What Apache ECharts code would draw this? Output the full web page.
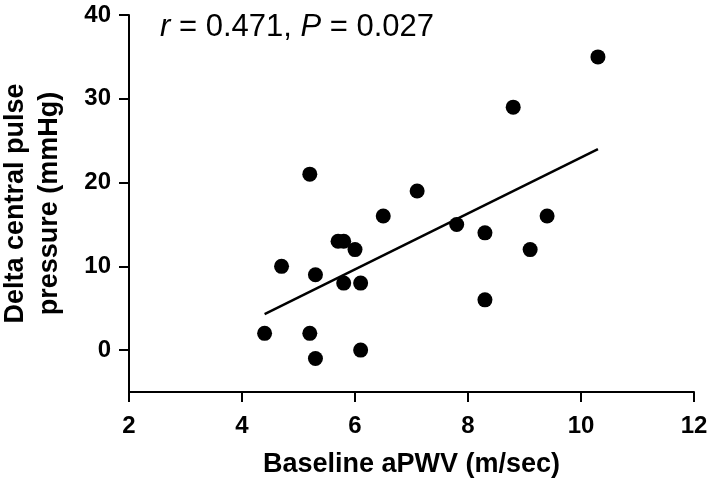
<!DOCTYPE html>
<html>
<head>
<meta charset="utf-8">
<script src="https://cdn.jsdelivr.net/npm/echarts@6/dist/echarts.min.js"></script>
<style>html,body{margin:0;padding:0;background:#fff}#c{width:709px;height:484px}</style>
</head>
<body>
<div id="c"></div>
<script>
// Data
const aPWV = [4.4, 4.7, 5.2, 5.2, 5.3, 5.3, 5.7, 5.8, 5.8, 6.0, 6.1, 6.1, 6.5, 7.1, 7.8, 8.3, 8.3, 8.8, 9.1, 9.4, 10.3];
const deltaPP = [2, 10, 2, 21, 9, -1, 13, 13, 8, 12, 8, 0, 16, 19, 15, 14, 6, 29, 12, 16, 35];
const fitX = [4.4, 10.3];
const fitY = [4.3, 24.0];
const xTicks = [2, 4, 6, 8, 10, 12];
const yTicks = [0, 10, 20, 30, 40];
const xTitle = 'Baseline aPWV (m/sec)';
const yTitle = 'Delta central pulse\npressure (mmHg)';
const statsText = ['r', ' = 0.471, ', 'P', ' = 0.027'];

const chart = echarts.init(document.getElementById('c'), null, {renderer: 'canvas'});
const font = 'Liberation Sans, Arial, Helvetica, sans-serif';
function axisLine() { return {show: true, onZero: false, lineStyle: {color: '#000', width: 2, opacity: 1}}; }
function axisTick(extra) { return Object.assign({show: true, inside: false, length: 10, lineStyle: {color: '#000', width: 2, opacity: 1}}, extra || {}); }
chart.setOption({
  animation: false,
  backgroundColor: '#fff',
  grid: {left: 129, right: 15, top: 15, bottom: 92, containLabel: false, outerBoundsMode: 'none'},
  xAxis: {
    type: 'value', min: xTicks[0], max: xTicks[xTicks.length - 1], interval: 2,
    axisLine: axisLine(), axisTick: axisTick(), splitLine: {show: false},
    axisLabel: {color: '#000', fontFamily: font, fontWeight: 'bold', fontSize: 24, margin: 22},
    name: xTitle, nameLocation: 'middle', nameGap: 59,
    nameTextStyle: {color: '#000', fontFamily: font, fontWeight: 'bold', fontSize: 27}
  },
  yAxis: {
    type: 'value', min: -5, max: 40,
    axisLine: axisLine(), axisTick: axisTick({customValues: yTicks}), splitLine: {show: false},
    axisLabel: {color: '#000', fontFamily: font, fontWeight: 'bold', fontSize: 24, margin: 18, customValues: yTicks},
    name: yTitle, nameLocation: 'middle', nameGap: 62, nameRotate: 90,
    nameTextStyle: {color: '#000', fontFamily: font, fontWeight: 'bold', fontSize: 27, lineHeight: 34, align: 'center'}
  },
  graphic: [{
    type: 'text', left: 160, top: 12,
    style: {
      text: '{i|' + statsText[0] + '}' + statsText[1] + '{i|' + statsText[2] + '}' + statsText[3],
      font: '31px ' + font, fill: '#000',
      rich: {i: {fontStyle: 'italic', fontSize: 31, fontFamily: font, fill: '#000'}}
    }
  }],
  series: [{
    type: 'line', data: fitX.map((x, i) => [x, fitY[i]]),
    symbol: 'none', lineStyle: {color: '#000', width: 2.5}, silent: true, z: 2
  }, {
    type: 'scatter', data: aPWV.map((x, i) => [x, deltaPP[i]]),
    symbol: 'circle', symbolSize: 15, itemStyle: {color: '#000', opacity: 1}, z: 3
  }]
});
</script>
</body>
</html>
